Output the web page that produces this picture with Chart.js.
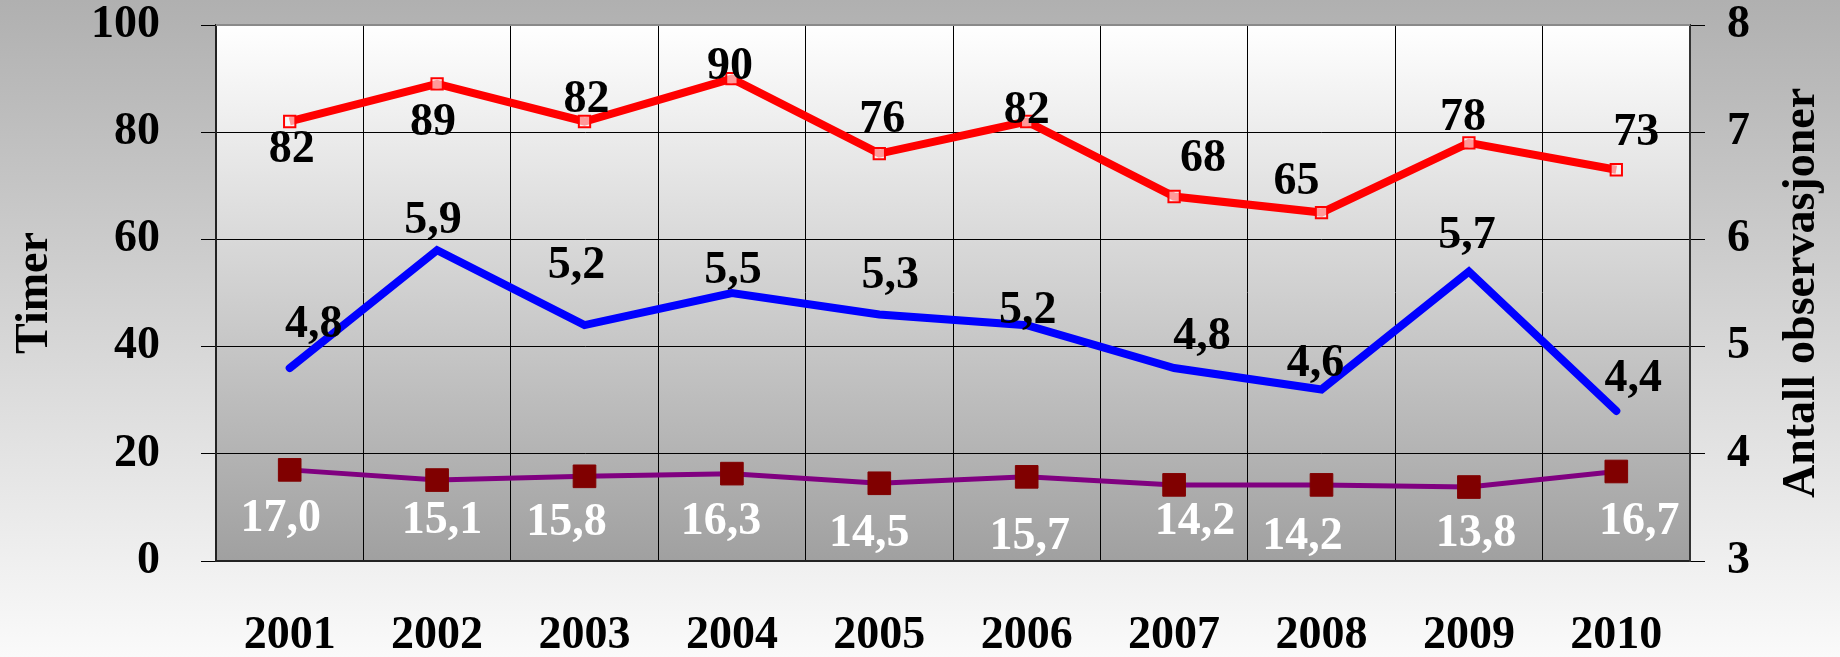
<!DOCTYPE html>
<html lang="no">
    <head>
        <meta charset="UTF-8" />
        <title>Timer og antall observasjoner</title>
        <style>
            body, html {
                margin: 0;
                padding: 0;
                overflow: hidden;
                background: #d8d8d8;
            }
            #chart {
                display: block;
            }
        </style>
    </head>
    <body>
        <canvas id="chart" width="1840" height="657"></canvas>
    </body>
    <script src="https://cdn.jsdelivr.net/npm/chart.js@4.4.0/dist/chart.umd.min.js"></script>
    <script>
        // data
        const years = ["2001", "2002", "2003", "2004", "2005", "2006", "2007", "2008", "2009", "2010"];
        const timerRed = [82, 89, 82, 90, 76, 82, 68, 65, 78, 73];
        const antallBlue = [4.8, 5.9, 5.2, 5.5, 5.3, 5.2, 4.8, 4.6, 5.7, 4.4];
        const timerPurple = [17.0, 15.1, 15.8, 16.3, 14.5, 15.7, 14.2, 14.2, 13.8, 16.7];
        const leftTicks = [0, 20, 40, 60, 80, 100];
        const rightTicks = [3, 4, 5, 6, 7, 8];
        const leftTitle = "Timer";
        const rightTitle = "Antall observasjoner";

        // where each value label sits relative to its point (dx, dy)
        const shiftRed = [[2, 26], [-4, 36], [2, -24], [-2, -15], [3, -37], [0, -13], [29, -41], [-25, -34], [-6, -28], [20, -40]];
        const shiftBlue = [[24, -46], [-4, -32], [-8, -62], [1, -25], [11, -41], [1, -17], [28, -34], [-6, -28], [-2, -39], [17, -35]];
        const shiftPurple = [[-9, 46], [5, 38], [-18, 44], [-11, 45], [-10, 48], [3, 57], [21, 34], [-19, 49], [7, 44], [23, 48]];

        const FONT = "'Liberation Serif', 'Times New Roman', serif";
        const big = { family: FONT, size: 46, weight: "bold", lineHeight: 1 };

        const comma = (v) => v.toFixed(1).replace(".", ",");

        const backgrounds = {
            id: "backgrounds",
            beforeDraw(chart) {
                const { ctx, width, height, chartArea: a } = chart;
                ctx.save();
                let g = ctx.createLinearGradient(0, 0, 0, height);
                g.addColorStop(0, "#b0b0b0");
                g.addColorStop(1, "#fafafa");
                ctx.fillStyle = g;
                ctx.fillRect(0, 0, width, height);
                g = ctx.createLinearGradient(0, a.top, 0, a.bottom);
                g.addColorStop(0, "#ffffff");
                g.addColorStop(1, "#a0a0a0");
                ctx.fillStyle = g;
                ctx.fillRect(a.left, a.top, a.right - a.left, a.bottom - a.top);
                ctx.restore();
            },
            afterDraw(chart) {
                const { ctx, chartArea: a } = chart;
                ctx.save();
                ctx.strokeStyle = "#8a8a8a";
                ctx.lineWidth = 2;
                ctx.beginPath();
                ctx.moveTo(a.left, a.top);
                ctx.lineTo(a.right, a.top);
                ctx.stroke();

                // axis titles, both read bottom to top
                const mid = (a.top + a.bottom) / 2;
                ctx.fillStyle = "#000000";
                ctx.font = "bold 46px " + FONT;
                ctx.textAlign = "center";
                ctx.textBaseline = "middle";
                ctx.translate(35, mid);
                ctx.rotate(-Math.PI / 2);
                ctx.fillText(leftTitle, 0, 0);
                ctx.setTransform(1, 0, 0, 1, 0, 0);
                ctx.translate(1802, mid);
                ctx.rotate(-Math.PI / 2);
                ctx.fillText(rightTitle, 0, 0);
                ctx.restore();
            },
        };

        const valueLabels = {
            id: "valueLabels",
            afterDatasetsDraw(chart) {
                const { ctx } = chart;
                ctx.save();
                ctx.font = "bold 46px " + FONT;
                ctx.textAlign = "center";
                ctx.textBaseline = "alphabetic";
                chart.data.datasets.forEach((ds, di) => {
                    const meta = chart.getDatasetMeta(di);
                    meta.data.forEach((pt, i) => {
                        const s = ds.shift[i];
                        ctx.fillStyle = ds.labelColor;
                        ctx.fillText(ds.fmt(ds.data[i]), pt.x + s[0], pt.y + s[1] + 15);
                    });
                });
                ctx.restore();
            },
        };

        const noPad = (s) => {
            s.paddingTop = 0;
            s.paddingBottom = 0;
        };

        new Chart(document.getElementById("chart"), {
            type: "line",
            data: {
                labels: years,
                datasets: [
                    {
                        label: "Timer",
                        data: timerRed,
                        yAxisID: "y",
                        borderColor: "#ff0000",
                        borderWidth: 8,
                        pointStyle: "rect",
                        pointRadius: 8,
                        pointBorderWidth: 2,
                        pointBorderColor: "#ff0000",
                        pointBackgroundColor: "rgba(255,255,255,0.6)",
                        labelColor: "#000000",
                        shift: shiftRed,
                        fmt: (v) => String(v),
                    },
                    {
                        label: "Antall observasjoner",
                        data: antallBlue,
                        yAxisID: "y2",
                        borderColor: "#0000ff",
                        borderWidth: 8,
                        borderCapStyle: "round",
                        pointRadius: 0,
                        labelColor: "#000000",
                        shift: shiftBlue,
                        fmt: comma,
                    },
                    {
                        label: "Timer (2)",
                        data: timerPurple,
                        yAxisID: "y",
                        borderColor: "#800080",
                        borderWidth: 5,
                        pointStyle: "rect",
                        pointRadius: 16,
                        pointBorderWidth: 1,
                        pointBorderColor: "#800000",
                        pointBackgroundColor: "#800000",
                        labelColor: "#ffffff",
                        shift: shiftPurple,
                        fmt: comma,
                    },
                ],
            },
            options: {
                responsive: false,
                animation: false,
                layout: { padding: { top: 25 } },
                plugins: {
                    legend: { display: false },
                    tooltip: { enabled: false },
                },
                elements: { line: { tension: 0 } },
                scales: {
                    x: {
                        offset: true,
                        grid: { offset: true, color: "#000000", lineWidth: 1, drawTicks: false, tickLength: 0 },
                        border: { display: true, color: "#222222", width: 2 },
                        ticks: { color: "#000000", font: big, padding: 52, maxRotation: 0 },
                        afterFit: (s) => { s.height = 96; },
                    },
                    y: {
                        position: "left",
                        min: 0,
                        max: 100,
                        afterBuildTicks: (s) => { s.ticks = leftTicks.map((v) => ({ value: v })); },
                        grid: { color: "#000000", lineWidth: 1, tickLength: 15 },
                        border: { display: true, color: "#222222", width: 2 },
                        ticks: { color: "#000000", font: big, padding: 41 },
                        afterFit: (s) => { s.width = 216; noPad(s); },
                    },
                    y2: {
                        position: "right",
                        min: 3,
                        max: 8,
                        afterBuildTicks: (s) => { s.ticks = rightTicks.map((v) => ({ value: v })); },
                        grid: { drawOnChartArea: false, color: "#000000", lineWidth: 1, tickLength: 15 },
                        border: { display: true, color: "#333333", width: 2 },
                        ticks: { color: "#000000", font: big, padding: 22 },
                        afterFit: (s) => { s.width = 150; noPad(s); },
                    },
                },
            },
            plugins: [backgrounds, valueLabels],
        });
    </script>
</html>
